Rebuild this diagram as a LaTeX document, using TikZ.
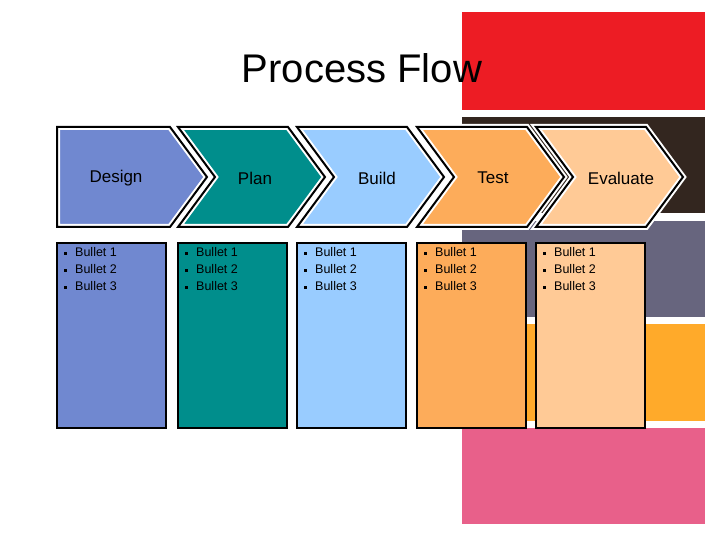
\documentclass[tikz,border=0pt]{standalone}
\usepackage{fontspec}
\setmainfont{Liberation Sans}
\definecolor{cdes}{HTML}{7088D0}
\definecolor{cpla}{HTML}{008E8C}
\definecolor{cbui}{HTML}{99CCFF}
\definecolor{ctes}{HTML}{FDAC5A}
\definecolor{ceva}{HTML}{FFCA96}
\definecolor{bred}{HTML}{ED1C24}
\definecolor{bdark}{HTML}{33261F}
\definecolor{bgrey}{HTML}{67657E}
\definecolor{bor}{HTML}{FFAA2A}
\definecolor{bpink}{HTML}{E8608A}
\tikzset{blk/.style={draw=none},
 halo/.style={draw=white,line width=6pt,line join=miter},
 outl/.style={draw=black,line width=2pt,line join=miter},
 lab/.style={font=\fontsize{17}{20}\selectfont,anchor=center},
 bul/.style={font=\fontsize{12.5}{17}\selectfont,anchor=north west,align=left,inner sep=0pt}}
\newcommand{\bl}{\raisebox{1.5pt}{\rule{3pt}{3pt}}\hspace{8pt}}
\begin{document}
\begin{tikzpicture}[x=1pt,y=-1pt]
\useasboundingbox[fill=white] (0,0) rectangle (720,540);
\fill[bred] (462,12) rectangle (705,110);
\fill[bdark] (462,117) rectangle (705,213);
\fill[bgrey] (462,221) rectangle (705,317);
\fill[bor] (462,324) rectangle (705,421);
\fill[bpink] (462,428) rectangle (705,524);
\node[font=\fontsize{40}{44}\selectfont] (title) at (362,68) {Process Flow};
% chevrons
\foreach \L/\c/\t/\n [count=\i] in {57/cdes/Design/a,178/cpla/Plan/b,297/cbui/Build/c,417/ctes/Test/d,536/ceva/Evaluate/e}{
  \ifnum\i=1
    \path[halo,fill=\c] (\L,127) -- (\L+113,127) -- (\L+150,177) -- (\L+113,227) -- (\L,227) -- cycle;
    \path[outl] (\L,127) -- (\L+113,127) -- (\L+150,177) -- (\L+113,227) -- (\L,227) -- cycle;
  \else
    \path[halo,fill=\c] (\L,127) -- (\L+110,127) -- (\L+147,177) -- (\L+110,227) -- (\L,227) -- (\L+37,177) -- cycle;
    \path[outl] (\L,127) -- (\L+110,127) -- (\L+147,177) -- (\L+110,227) -- (\L,227) -- (\L+37,177) -- cycle;
  \fi
  \draw[black,line width=2pt,fill=\c] (\L,243) rectangle (\L+109,428);
  \node[bul] (b\n) at (\L+7,247) {\bl Bullet 1\\\bl Bullet 2\\\bl Bullet 3};
}
\node[lab] (la) at (116,178) {Design};
\node[lab] (lb) at (255,178) {Plan};
\node[lab] (lc) at (377,178) {Build};
\node[lab] (ld) at (493,178) {Test};
\node[lab] (le) at (621,178) {Evaluate};
\end{tikzpicture}
\end{document}
